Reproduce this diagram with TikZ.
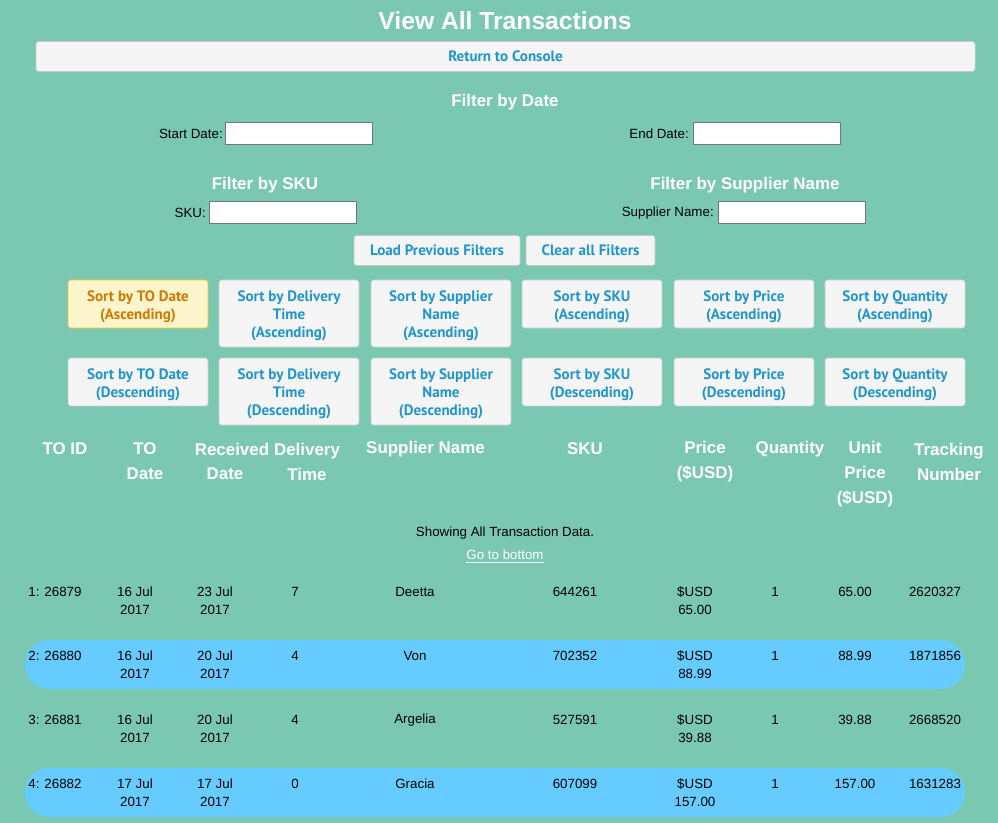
\documentclass[tikz,border=0pt]{standalone}
\usepackage{fontspec}
\setmainfont{Liberation Sans}
\newfontfamily\btnfont{PT Sans}
\definecolor{bg}{RGB}{123,200,178}
\definecolor{rowblue}{RGB}{102,204,255}
\definecolor{btnfill}{RGB}{245,245,245}
\definecolor{btnborder}{RGB}{200,200,200}
\definecolor{btntext}{RGB}{30,150,205}
\definecolor{hlfill}{RGB}{255,245,205}
\definecolor{hlborder}{RGB}{240,195,30}
\definecolor{hltext}{RGB}{210,120,0}
\definecolor{inborder}{RGB}{118,118,118}
\newcommand\bstrut{\rule{0pt}{11.5pt}}
\begin{document}
\begin{tikzpicture}[x=0.75pt,y=-0.75pt,
  txt/.style={inner sep=0pt,font=\fontsize{10}{13.5}\selectfont,text=black,align=center},
  lbl/.style={txt,anchor=east},
  head/.style={inner sep=0pt,font=\fontsize{12.7}{18.75}\selectfont\bfseries,text=white,align=center},
  btn/.style={draw=btnborder,fill=btnfill,rounded corners=2pt,inner sep=0pt,
     font=\btnfont\bfseries\fontsize{11.3}{13.5}\selectfont,text=btntext,align=center,
     minimum width=105pt},
  btnhl/.style={btn,draw=hlborder,fill=hlfill,text=hltext},
  twoline/.style={minimum height=36pt},
  threeline/.style={minimum height=50.25pt},
  inbox/.style={draw=inborder,fill=white,inner sep=0pt,minimum width=110.25pt,minimum height=16.5pt},
  pill/.style={fill=rowblue,rounded corners=18.3pt}]
\fill[bg] (0,0) rectangle (998,823);
\useasboundingbox (0,0) rectangle (998,823);

% title
\node[inner sep=0pt,font=\fontsize{18.5}{22}\selectfont\bfseries,text=white] (title) at (505,21) {View All Transactions};
\node[btn,minimum width=704.25pt,minimum height=22.5pt] (ret) at (505.5,56.5) {Return to Console};

% filters
\node[head] (fdate) at (505,102) {Filter by Date};
\node[inbox] (sdbox) at (298.5,133) {};
\node[lbl] (sdlbl) at (223,134) {Start Date:};
\node[inbox] (edbox) at (766.5,133) {};
\node[lbl] (edlbl) at (689,134) {End Date:};

\node[head] (fsku) at (265,185) {Filter by SKU};
\node[head] (fsup) at (745,185) {Filter by Supplier Name};
\node[inbox] (skubox) at (282.5,212) {};
\node[lbl] (skulbl) at (206,213) {SKU:};
\node[inbox] (supbox) at (791.5,212) {};
\node[lbl] (suplbl) at (714,213) {Supplier Name:};

\node[btn,minimum width=124.5pt,minimum height=22.5pt] (load) at (437,250.5) {Load Previous Filters};
\node[btn,minimum width=96.75pt,minimum height=22.5pt] (clear) at (590.5,250.5) {Clear all Filters};

% sort buttons row 1
\node[btnhl,twoline] (s1a) at (138,304) {\bstrut Sort by TO Date\\(Ascending)};
\node[btn,threeline] (s2a) at (289,313.5) {\bstrut Sort by Delivery\\Time\\(Ascending)};
\node[btn,threeline] (s3a) at (441,313.5) {\bstrut Sort by Supplier\\Name\\(Ascending)};
\node[btn,twoline] (s4a) at (592,304) {\bstrut Sort by SKU\\(Ascending)};
\node[btn,twoline] (s5a) at (744,304) {\bstrut Sort by Price\\(Ascending)};
\node[btn,twoline] (s6a) at (895,304) {\bstrut Sort by Quantity\\(Ascending)};
% sort buttons row 2
\node[btn,twoline] (s1d) at (138,382) {\bstrut Sort by TO Date\\(Descending)};
\node[btn,threeline] (s2d) at (289,391.5) {\bstrut Sort by Delivery\\Time\\(Descending)};
\node[btn,threeline] (s3d) at (441,391.5) {\bstrut Sort by Supplier\\Name\\(Descending)};
\node[btn,twoline] (s4d) at (592,382) {\bstrut Sort by SKU\\(Descending)};
\node[btn,twoline] (s5d) at (744,382) {\bstrut Sort by Price\\(Descending)};
\node[btn,twoline] (s6d) at (895,382) {\bstrut Sort by Quantity\\(Descending)};

% table header
\node[head] (hid) at (65,449) {TO ID};
\node[head] (hto) at (145,461.5) {TO\\Date};
\node[head] (hrec1) at (232,449) {Received};
\node[head] (hrec2) at (225,474) {Date};
\node[head] (hdel) at (307,461.5) {Delivery\\Time};
\node[head] (hsup) at (425.5,449) {Supplier Name};
\node[head] (hsku) at (585,449) {SKU};
\node[head] (hpr) at (705,461.5) {Price\\(\$USD)};
\node[head] (hqty) at (790,449) {Quantity};
\node[head] (hup) at (865,474.5) {Unit\\Price\\(\$USD)};
\node[head] (htr) at (949,461.5) {Tracking\\Number};

\node[txt] (showing) at (505,533) {Showing All Transaction Data.};
\node[txt,text=white] (gobottom) at (505,556.5) {\underline{Go to bottom}};

% highlighted rows
\fill[pill] (25,640) rectangle (965,689);
\fill[pill] (25,768) rectangle (965,817);

% data rows
\foreach \n/\y/\id/\td/\rd/\dl/\sp/\sk/\pr/\q/\tr in {
  1/592/{1: 26879}/{16 Jul}/{23 Jul}/7/Deetta/644261/65.00/1/2620327,
  2/656/{2: 26880}/{16 Jul}/{20 Jul}/4/Von/702352/88.99/1/1871856,
  3/720/{3: 26881}/{16 Jul}/{20 Jul}/4/Argelia/527591/39.88/1/2668520,
  4/784/{4: 26882}/{17 Jul}/{17 Jul}/0/Gracia/607099/157.00/1/1631283}{
  \node[txt] (r\n id) at (55,\y) {\id};
  \node[txt] (r\n td) at (135,\y+9) {\td\\2017};
  \node[txt] (r\n rd) at (215,\y+9) {\rd\\2017};
  \node[txt] (r\n dl) at (295,\y) {\dl};
  \node[txt] (r\n sp) at (415,\y) {\sp};
  \node[txt] (r\n sk) at (575,\y) {\sk};
  \node[txt] (r\n pr) at (695,\y+9) {\$USD\\\pr};
  \node[txt] (r\n q) at (775,\y) {\q};
  \node[txt] (r\n up) at (855,\y) {\pr};
  \node[txt] (r\n tr) at (935,\y) {\tr};
}
\end{tikzpicture}
\end{document}
